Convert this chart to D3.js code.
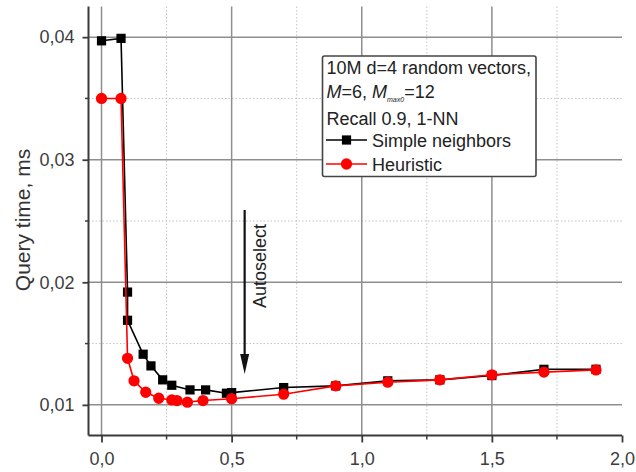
<!DOCTYPE html>
<html><head><meta charset="utf-8">
<script src="https://cdn.jsdelivr.net/npm/d3@7"></script>
<style>html,body{margin:0;padding:0;background:#fff}svg{display:block}</style>
</head><body>
<svg id="chart" width="636" height="472"></svg>
<script>
// ---- data ----
const simpleX = [0, 0.075, 0.1, 0.1, 0.16, 0.19, 0.235, 0.27, 0.34, 0.4, 0.48, 0.5, 0.7, 0.9, 1.1, 1.3, 1.5, 1.7, 1.9];
const simpleY = [0.0397, 0.0399, 0.0192, 0.0169, 0.01413, 0.01318, 0.01204, 0.0116, 0.01122, 0.01122, 0.01095, 0.0110, 0.01141, 0.01155, 0.01196, 0.01204, 0.01239, 0.0129, 0.0129];
const heurX = [0, 0.075, 0.1, 0.125, 0.17, 0.22, 0.27, 0.29, 0.33, 0.39, 0.5, 0.7, 0.9, 1.1, 1.3, 1.5, 1.7, 1.9];
const heurY = [0.0350, 0.0350, 0.0138, 0.01196, 0.01103, 0.01054, 0.0104, 0.01035, 0.01022, 0.01035, 0.0105, 0.01087, 0.01155, 0.01185, 0.01204, 0.01245, 0.01267, 0.01285];
const xMajor = [0, 0.5, 1.0, 1.5, 2.0];
const xMajorLabels = ["0,0", "0,5", "1,0", "1,5", "2,0"];
const xMinor = [0.25, 0.75, 1.25, 1.75];
const yMajor = [0.01, 0.02, 0.03, 0.04];
const yMajorLabels = ["0,01", "0,02", "0,03", "0,04"];
const yMinor = [0.015, 0.025, 0.035];
const seriesNames = ["Simple neighbors", "Heuristic"];
const yTitle = "Query time, ms";
const annotation = "Autoselect";
const annotationX = 0.55;

// ---- layout ----
const svg = d3.select("#chart");
const FONT = "'Liberation Sans', Arial, sans-serif";
const L = 88.5, R = 622, T = 6.5, B = 435.5;
const x = d3.scaleLinear().domain([-0.05, 2.0]).range([L, R]);
const y = d3.scaleLinear().domain([0.0075, 0.0425]).range([B, T]);

// grid
const g = svg.append("g");
g.selectAll(".vminor").data(xMinor).join("line")
  .attr("x1", d => x(d)).attr("x2", d => x(d)).attr("y1", T).attr("y2", B)
  .attr("stroke", "#c4c4c4").attr("stroke-width", 1).attr("stroke-dasharray", "1.5,2");
g.selectAll(".hminor").data(yMinor).join("line")
  .attr("y1", d => y(d)).attr("y2", d => y(d)).attr("x1", L).attr("x2", R)
  .attr("stroke", "#c4c4c4").attr("stroke-width", 1).attr("stroke-dasharray", "1.5,2");
g.selectAll(".vmajor").data(xMajor.filter(d => d < 2)).join("line")
  .attr("x1", d => x(d)).attr("x2", d => x(d)).attr("y1", T).attr("y2", B)
  .attr("stroke", "#8e8e8e").attr("stroke-width", 1.5);
g.selectAll(".hmajor").data(yMajor).join("line")
  .attr("y1", d => y(d)).attr("y2", d => y(d)).attr("x1", L).attr("x2", R)
  .attr("stroke", "#8e8e8e").attr("stroke-width", 1.5);

// axes
const xAxis = d3.axisBottom(x).tickValues(xMajor).tickFormat((d, i) => xMajorLabels[i]).tickSize(7).tickPadding(10);
const xa = svg.append("g").attr("transform", `translate(0,${B})`).call(xAxis);
const yAxis = d3.axisLeft(y).tickValues(yMajor).tickFormat((d, i) => yMajorLabels[i]).tickSize(6).tickPadding(8);
const ya = svg.append("g").attr("transform", `translate(${L},0)`).call(yAxis);
[xa, ya].forEach(a => {
  a.select(".domain").attr("stroke", "#3a3a3a").attr("stroke-width", 2);
  a.selectAll(".tick line").attr("stroke", "#3a3a3a").attr("stroke-width", 1.8);
  a.selectAll(".tick text").attr("fill", "#3d3d3d").style("font-family", FONT).style("font-size", "18px");
});
xa.select(".domain").attr("d", `M${L},0H${R}`);
ya.select(".domain").attr("d", `M0,${T}V${B}`);
xa.selectAll(".minor").data(xMinor).join("line").attr("class", "minor")
  .attr("x1", d => x(d)).attr("x2", d => x(d)).attr("y1", 0).attr("y2", 4)
  .attr("stroke", "#3a3a3a").attr("stroke-width", 1.5);
ya.selectAll(".minor").data(yMinor).join("line").attr("class", "minor")
  .attr("y1", d => y(d)).attr("y2", d => y(d)).attr("x1", 0).attr("x2", -3.5)
  .attr("stroke", "#3a3a3a").attr("stroke-width", 1.5);

// y title
svg.append("text").attr("transform", "translate(30,220) rotate(-90)")
  .attr("text-anchor", "middle").attr("fill", "#333")
  .style("font-family", FONT).style("font-size", "21px").text(yTitle);

// series
const simple = simpleX.map((v, i) => [v, simpleY[i]]);
const heur = heurX.map((v, i) => [v, heurY[i]]);
const line = d3.line().x(d => x(d[0])).y(d => y(d[1]));
svg.append("path").datum(simple).attr("d", line).attr("fill", "none").attr("stroke", "#000").attr("stroke-width", 1.6);
svg.selectAll(".sq").data(simple).join("path")
  .attr("transform", d => `translate(${x(d[0])},${y(d[1])})`)
  .attr("d", d3.symbol(d3.symbolSquare, 85)).attr("fill", "#000");
svg.append("path").datum(heur).attr("d", line).attr("fill", "none").attr("stroke", "#ff0000").attr("stroke-width", 1.6);
svg.selectAll(".ci").data(heur).join("path")
  .attr("transform", d => `translate(${x(d[0])},${y(d[1])})`)
  .attr("d", d3.symbol(d3.symbolCircle, 100)).attr("fill", "#ff0000");

// annotation arrow
const ax = x(annotationX);
svg.append("line").attr("x1", ax).attr("x2", ax).attr("y1", 210).attr("y2", 360)
  .attr("stroke", "#111").attr("stroke-width", 2.2);
svg.append("path").attr("d", `M${ax - 4.5},354L${ax + 4.5},354L${ax},374Z`).attr("fill", "#111");
svg.append("text").attr("transform", `translate(${ax + 21},266) rotate(-90)`)
  .attr("text-anchor", "middle").attr("fill", "#222")
  .style("font-family", FONT).style("font-size", "18px").text(annotation);

// legend
const lg = svg.append("g").style("font-family", FONT).style("font-size", "18px").attr("fill", "#222");
lg.append("rect").attr("x", 322.5).attr("y", 56).attr("width", 213.5).attr("height", 120.5).attr("rx", 2)
  .attr("fill", "#fff").attr("stroke", "#444").attr("stroke-width", 1.6);
lg.append("text").attr("x", 326.5).attr("y", 73.5).text("10M d=4 random vectors,");
const t2 = lg.append("text").attr("x", 326.5).attr("y", 98);
t2.append("tspan").style("font-style", "italic").text("M");
t2.append("tspan").text("=6, ");
t2.append("tspan").style("font-style", "italic").text("M");
t2.append("tspan").style("font-style", "italic").style("font-size", "7px").attr("dy", 4).text("max0");
t2.append("tspan").attr("dy", -4).text("=12");
lg.append("text").attr("x", 326.5).attr("y", 125).text("Recall 0.9, 1-NN");
const legendRows = [
  { name: seriesNames[0], color: "#000", sym: d3.symbolSquare, size: 85, yy: 140 },
  { name: seriesNames[1], color: "#ff0000", sym: d3.symbolCircle, size: 100, yy: 164 }
];
legendRows.forEach(r => {
  lg.append("line").attr("x1", 326).attr("x2", 367).attr("y1", r.yy).attr("y2", r.yy).attr("stroke", r.color).attr("stroke-width", 1.6);
  lg.append("path").attr("transform", `translate(346.5,${r.yy})`).attr("d", d3.symbol(r.sym, r.size)).attr("fill", r.color);
  lg.append("text").attr("x", 372).attr("y", r.yy + 6.5).text(r.name);
});
</script>
</body></html>
